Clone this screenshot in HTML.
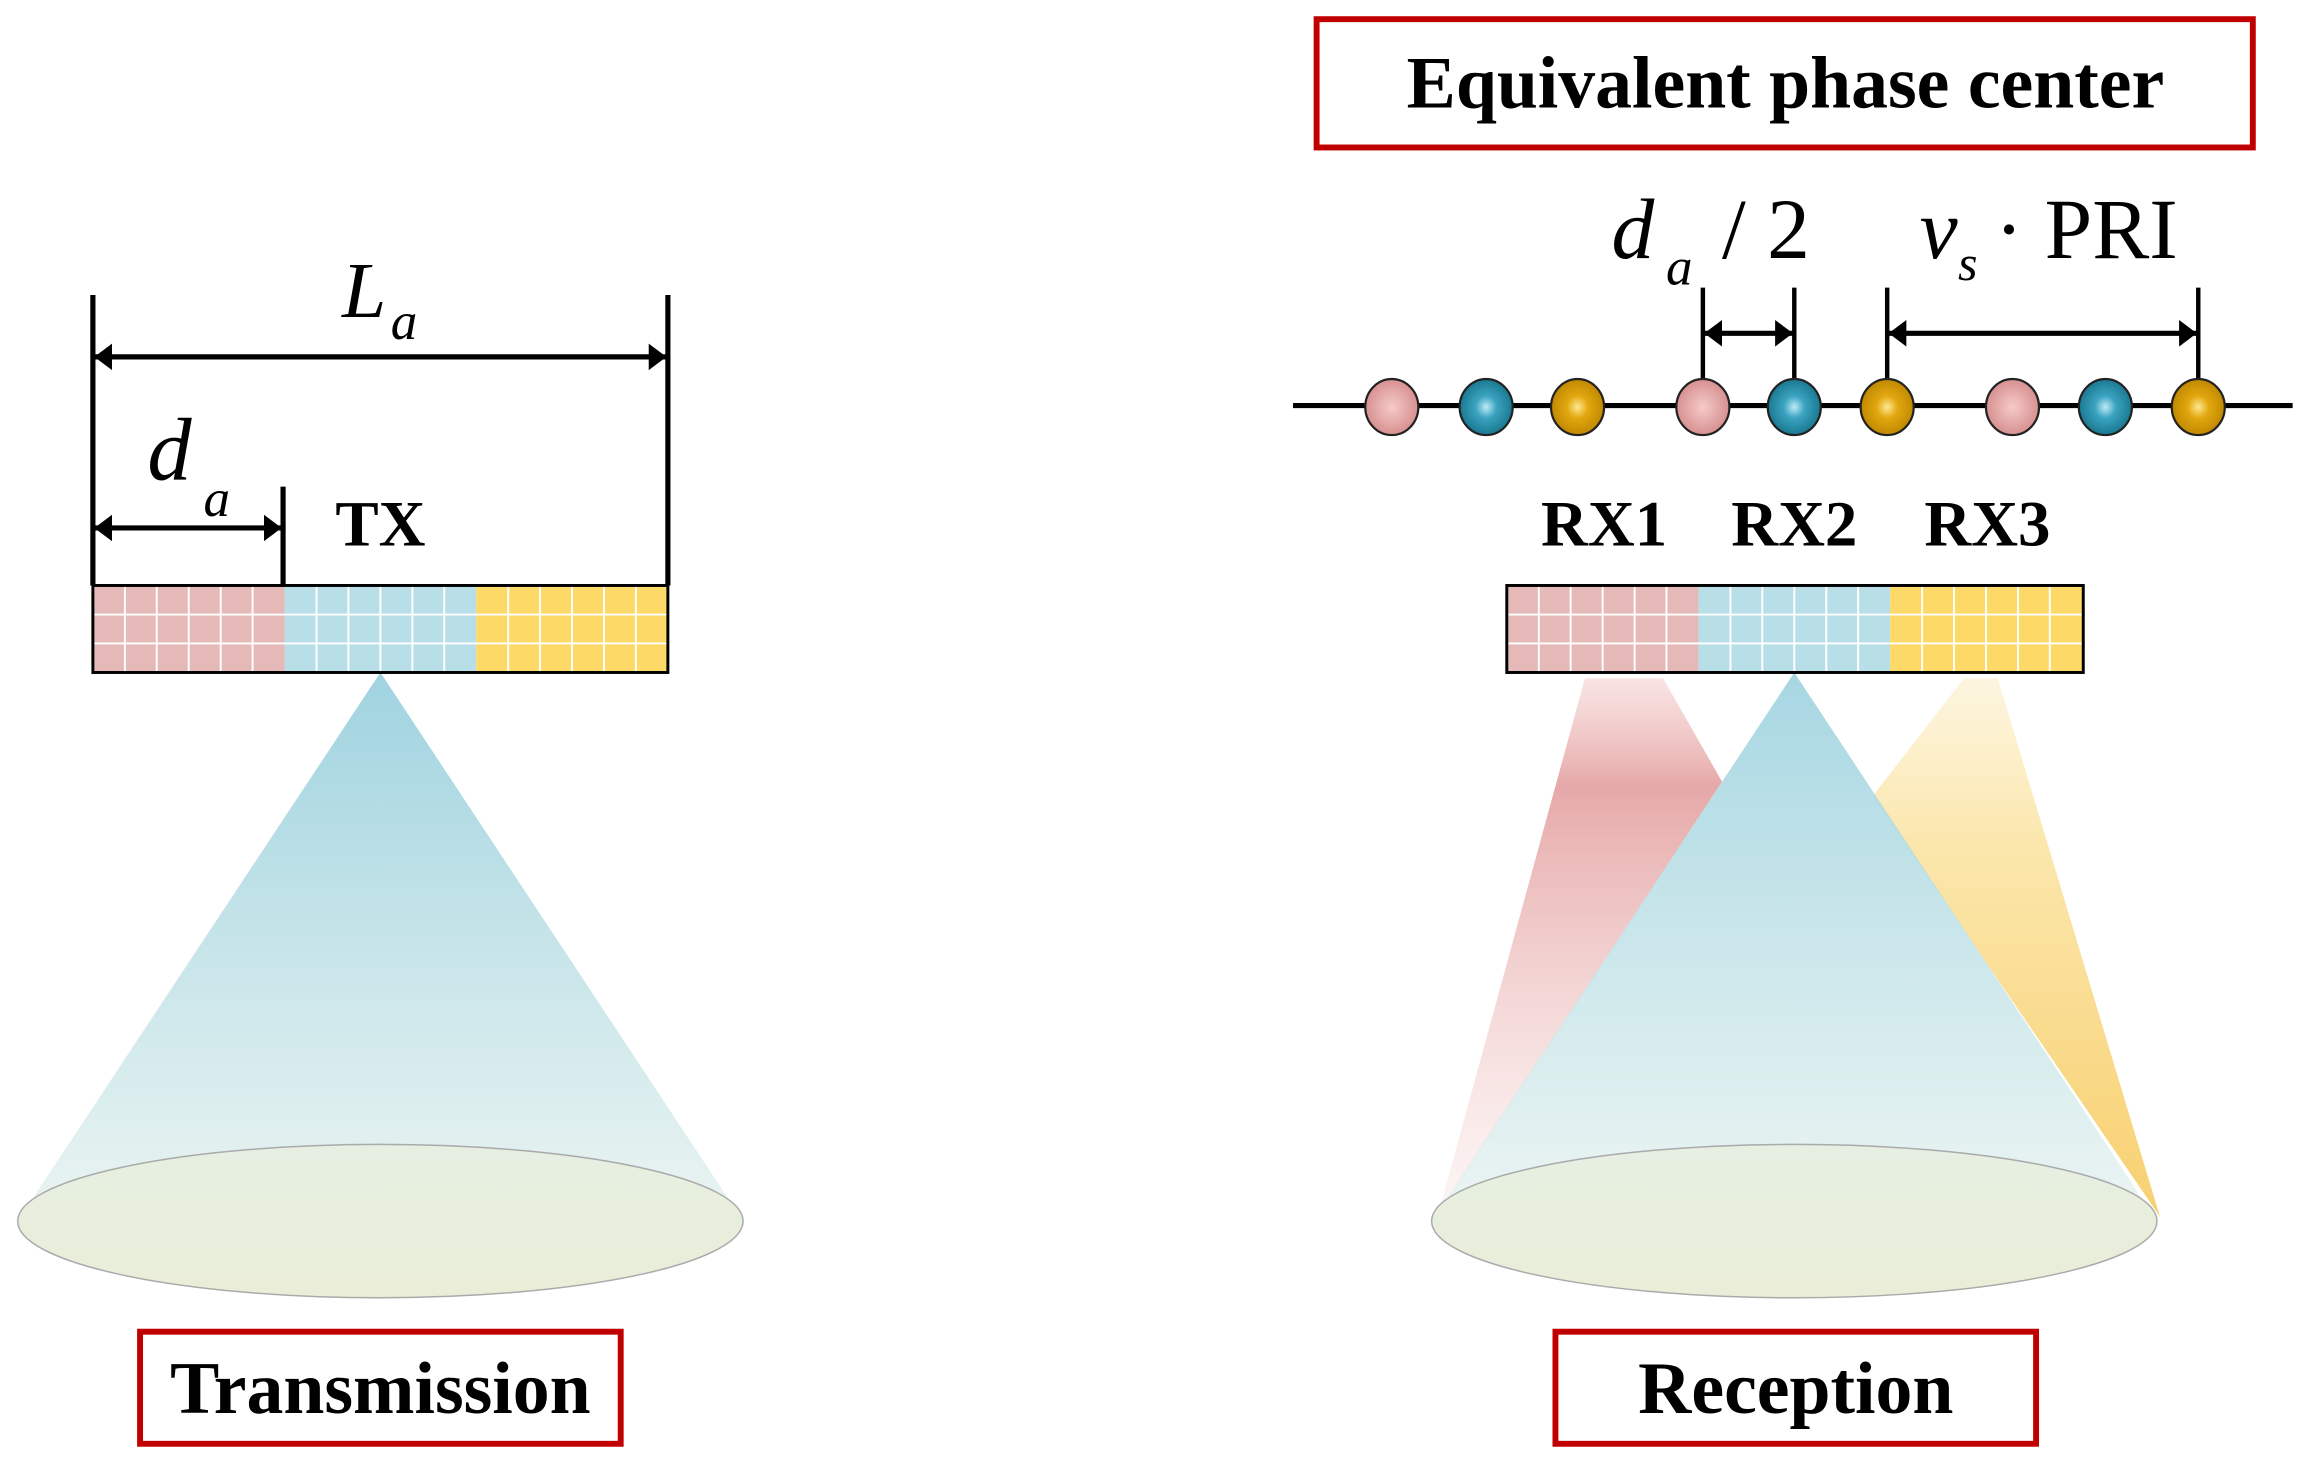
<!DOCTYPE html>
<html><head><meta charset="utf-8"><style>
html,body{margin:0;padding:0;background:#fff;width:2300px;height:1460px;overflow:hidden}
svg{display:block}
</style></head><body>
<svg width="2300" height="1460" viewBox="0 0 1560 990" preserveAspectRatio="none" xmlns="http://www.w3.org/2000/svg" font-family="Liberation Serif, serif">
<defs>
<linearGradient id="gb" x1="0" y1="0" x2="0" y2="1"><stop offset="0" stop-color="#9fd3e0"/><stop offset="1" stop-color="#e8f3f0" stop-opacity="0.9"/></linearGradient>
<linearGradient id="gp" x1="0" y1="0" x2="0" y2="1"><stop offset="0" stop-color="#f4d2d0" stop-opacity="0.6"/><stop offset="0.2" stop-color="#e6a8a8"/><stop offset="1" stop-color="#f8e6e4" stop-opacity="0.4"/></linearGradient>
<linearGradient id="gy" x1="0" y1="0" x2="0" y2="1"><stop offset="0" stop-color="#fbeec8" stop-opacity="0.6"/><stop offset="0.3" stop-color="#fbe7ad"/><stop offset="1" stop-color="#f8d070"/></linearGradient>
<linearGradient id="ge" x1="0" y1="0" x2="0" y2="1"><stop offset="0" stop-color="#e6efe2"/><stop offset="1" stop-color="#eaeed8"/></linearGradient>
<radialGradient id="bp" cx="0.5" cy="0.5" r="0.5"><stop offset="0" stop-color="#f6caca"/><stop offset="1" stop-color="#d79090"/></radialGradient>
<radialGradient id="bb" cx="0.5" cy="0.5" r="0.5"><stop offset="0" stop-color="#bfeaf6"/><stop offset="0.4" stop-color="#3aa3c0"/><stop offset="1" stop-color="#1a7890"/></radialGradient>
<radialGradient id="by" cx="0.5" cy="0.5" r="0.5"><stop offset="0" stop-color="#ffe890"/><stop offset="0.4" stop-color="#e2a810"/><stop offset="1" stop-color="#c08800"/></radialGradient>
<marker id="ar" viewBox="0 0 10 10" refX="10" refY="5" markerWidth="12" markerHeight="18" orient="auto-start-reverse" markerUnits="userSpaceOnUse" preserveAspectRatio="none"><path d="M0,0 L10,5 L0,10 Z" fill="#000"/></marker>
</defs>

<!-- LEFT -->
<polygon points="258,456 12,828 504,828" fill="url(#gb)"/>
<ellipse cx="258" cy="828" rx="246" ry="52" fill="url(#ge)" stroke="#aaa" stroke-width="1"/>
<rect x="63" y="397" width="130" height="59" fill="#e4b9b8"/>
<rect x="193" y="397" width="130" height="59" fill="#b8dee8"/>
<rect x="323" y="397" width="130" height="59" fill="#fdd968"/>
<g stroke="#fff" stroke-width="1.3">
<path d="M84.7,397V456M106.3,397V456M128,397V456M149.7,397V456M171.3,397V456M214.7,397V456M236.3,397V456M258,397V456M279.7,397V456M301.3,397V456M344.7,397V456M366.3,397V456M388,397V456M409.7,397V456M431.3,397V456M63,416.7H453M63,436.3H453"/>
</g>
<rect x="63" y="397" width="390" height="59" fill="none" stroke="#000" stroke-width="2"/>
<path d="M63,200V397M453,200V397M192,330V397" stroke="#000" stroke-width="3.5"/>
<line x1="64" y1="242" x2="452" y2="242" stroke="#000" stroke-width="3.5" marker-start="url(#ar)" marker-end="url(#ar)"/>
<line x1="64" y1="358" x2="191" y2="358" stroke="#000" stroke-width="3.5" marker-start="url(#ar)" marker-end="url(#ar)"/>
<text x="232" y="215" font-size="54" font-style="italic">L</text><text x="265" y="230" font-size="36" font-style="italic">a</text>
<text x="100" y="325" font-size="60" font-style="italic">d</text><text x="138" y="350" font-size="36" font-style="italic">a</text>
<text x="258" y="370" font-size="44" font-weight="bold" text-anchor="middle">TX</text>
<rect x="95" y="903" width="326" height="76" fill="none" stroke="#c00000" stroke-width="4"/>
<text x="258" y="958" font-size="50" font-weight="bold" text-anchor="middle">Transmission</text>

<!-- RIGHT -->
<polygon points="1075,460 1128,460 1168,530 975,825" fill="url(#gp)"/>
<polygon points="1332,460 1355,460 1465,825 1270,540" fill="url(#gy)"/>
<polygon points="1217,456 971,828 1463,828" fill="url(#gb)" opacity="0.92"/>
<ellipse cx="1217" cy="828" rx="246" ry="52" fill="url(#ge)" stroke="#aaa" stroke-width="1"/>
<rect x="1022" y="397" width="130" height="59" fill="#e4b9b8"/>
<rect x="1152" y="397" width="130" height="59" fill="#b8dee8"/>
<rect x="1282" y="397" width="131" height="59" fill="#fdd968"/>
<g stroke="#fff" stroke-width="1.3">
<path d="M1043.7,397V456M1065.3,397V456M1087,397V456M1108.7,397V456M1130.3,397V456M1173.7,397V456M1195.3,397V456M1217,397V456M1238.7,397V456M1260.3,397V456M1303.7,397V456M1325.3,397V456M1347,397V456M1368.7,397V456M1390.3,397V456M1022,416.7H1413M1022,436.3H1413"/>
</g>
<rect x="1022" y="397" width="391" height="59" fill="none" stroke="#000" stroke-width="2"/>
<text x="1088" y="370" font-size="44" font-weight="bold" text-anchor="middle">RX1</text>
<text x="1217" y="370" font-size="44" font-weight="bold" text-anchor="middle">RX2</text>
<text x="1348" y="370" font-size="44" font-weight="bold" text-anchor="middle">RX3</text>

<line x1="877" y1="275" x2="1555" y2="275" stroke="#000" stroke-width="3.5"/>
<path d="M1155,195V275M1217,195V275M1280,195V275M1491,195V275" stroke="#000" stroke-width="3"/>
<line x1="1156" y1="226" x2="1216" y2="226" stroke="#000" stroke-width="3.5" marker-start="url(#ar)" marker-end="url(#ar)"/>
<line x1="1281" y1="226" x2="1490" y2="226" stroke="#000" stroke-width="3.5" marker-start="url(#ar)" marker-end="url(#ar)"/>
<g stroke="#222" stroke-width="1.5">
<ellipse cx="944" cy="276" rx="18" ry="19" fill="url(#bp)"/>
<ellipse cx="1008" cy="276" rx="18" ry="19" fill="url(#bb)"/>
<ellipse cx="1070" cy="276" rx="18" ry="19" fill="url(#by)"/>
<ellipse cx="1155" cy="276" rx="18" ry="19" fill="url(#bp)"/>
<ellipse cx="1217" cy="276" rx="18" ry="19" fill="url(#bb)"/>
<ellipse cx="1280" cy="276" rx="18" ry="19" fill="url(#by)"/>
<ellipse cx="1365" cy="276" rx="18" ry="19" fill="url(#bp)"/>
<ellipse cx="1428" cy="276" rx="18" ry="19" fill="url(#bb)"/>
<ellipse cx="1491" cy="276" rx="18" ry="19" fill="url(#by)"/>
</g>
<text x="1093" y="175" font-size="58" font-style="italic">d</text><text x="1130" y="193" font-size="36" font-style="italic">a</text>
<text x="1168" y="175" font-size="58">/ 2</text>
<text x="1302" y="175" font-size="58" font-style="italic">v</text><text x="1328" y="190" font-size="34" font-style="italic">s</text>
<text x="1353" y="175" font-size="58">· PRI</text>

<rect x="893" y="13" width="635" height="87" fill="none" stroke="#c00000" stroke-width="4"/>
<text x="1211" y="73" font-size="50" font-weight="bold" text-anchor="middle">Equivalent phase center</text>
<rect x="1055" y="903" width="326" height="76" fill="none" stroke="#c00000" stroke-width="4"/>
<text x="1218" y="958" font-size="50" font-weight="bold" text-anchor="middle">Reception</text>
</svg>
</body></html>
